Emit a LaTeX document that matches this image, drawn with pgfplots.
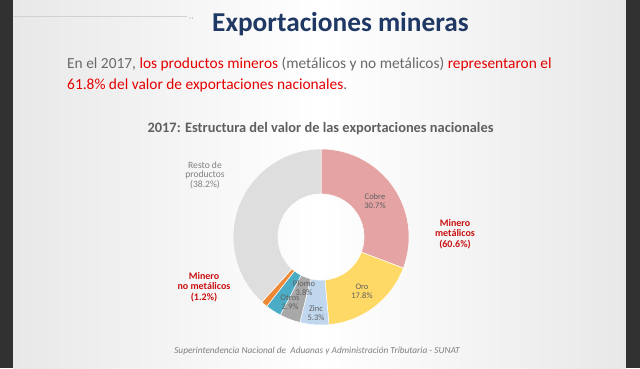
\documentclass[border=0pt]{standalone}
\usepackage{pgfplots}
\pgfplotsset{compat=1.18}
\usepackage{pgfplotstable}
\usepackage{fontspec}
\setmainfont{Carlito}
\definecolor{cCobre}{RGB}{229,163,163}
\definecolor{cOro}{RGB}{255,217,102}
\definecolor{cZinc}{RGB}{192,215,238}
\definecolor{cPlomo}{RGB}{168,168,168}
\definecolor{cOtros}{RGB}{75,172,198}
\definecolor{cNoMet}{RGB}{237,137,54}
\definecolor{cResto}{RGB}{222,222,222}
\definecolor{tBlue}{RGB}{31,56,100}
\definecolor{tGray}{RGB}{105,105,105}
\definecolor{tRed}{RGB}{228,0,0}
\definecolor{lRed}{RGB}{200,16,16}
\definecolor{lGray}{RGB}{128,128,128}
\definecolor{sGray}{RGB}{95,95,95}
\definecolor{dark}{RGB}{49,49,49}

\pgfplotstableread{
name value col
Cobre 30.7 cCobre
Oro 17.8 cOro
Zinc 5.3 cZinc
Plomo 3.8 cPlomo
Otros 2.9 cOtros
NoMet 1.2 cNoMet
Resto 38.2 cResto
}\donut

\newcommand{\fs}[1]{\fontsize{#1bp}{1.2\dimexpr#1bp\relax}\selectfont}

\begin{document}
\begin{tikzpicture}[x=1bp,y=1bp]
\useasboundingbox (0,0) rectangle (640,368);
% background
\shade[left color=black!9, right color=black!9, middle color=white] (13,0) rectangle (626,368);
\fill[dark] (0,0) rectangle (13,368);
\fill[dark] (626,0) rectangle (640,368);
\draw[black!18, line width=1bp] (13,351) -- (187,351);
\fill[black!35] (190,350) circle (0.6);
\fill[black!35] (192.5,350) circle (0.6);

% title
\node[anchor=base west, text=tBlue, font=\fs{27.3}\bfseries, inner sep=0] at (212,337) {Exportaciones mineras};
% body text
\node[anchor=base west, font=\fs{15.4}, inner sep=0] at (67,300) {\textcolor{tGray}{En el 2017, }\textcolor{tRed}{los productos mineros }\textcolor{tGray}{(metálicos y no metálicos) }\textcolor{tRed}{representaron el}};
\node[anchor=base west, font=\fs{15.4}, inner sep=0] at (67,279) {\textcolor{tRed}{61.8\% del valor de exportaciones nacionales}\textcolor{tGray}{.}};
% chart title
\node[anchor=base, text=sGray, font=\fs{14.4}\bfseries, inner sep=0] at (320.5,236) {2017: Estructura del valor de las exportaciones nacionales};

\begin{axis}[at={(321bp,131bp)}, anchor=origin, width=176bp, height=176bp, scale only axis,
  xmin=-1, xmax=1, ymin=-1, ymax=1, hide axis, clip=false, xtick=\empty, ytick=\empty]
\pgfplotstablegetrowsof{\donut}
\pgfmathtruncatemacro\N{\pgfplotsretval-1}
\def\tot{0}
\pgfplotsforeachungrouped \i in {0,...,\N}{%
  \pgfplotstablegetelem{\i}{value}\of{\donut}%
  \pgfmathsetmacro\tot{\tot+\pgfplotsretval}%
}
\def\cum{0}
\pgfplotsforeachungrouped \i in {0,...,\N}{%
  \pgfplotstablegetelem{\i}{value}\of{\donut}\let\sv\pgfplotsretval
  \pgfplotstablegetelem{\i}{col}\of{\donut}\let\sc\pgfplotsretval
  \pgfmathsetmacro\sa{90-(\cum/\tot)*360}%
  \pgfmathsetmacro\cum{\cum+\sv}%
  \pgfmathsetmacro\sb{90-(\cum/\tot)*360}%
  \edef\temp{\noexpand\fill[\sc, draw=white, line width=0.5bp] (axis cs:{cos(\sa)},{sin(\sa)}) arc[start angle=\sa, end angle=\sb, radius=1] -- (axis cs:{0.49*cos(\sb)},{0.49*sin(\sb)}) arc[start angle=\sb, end angle=\sa, radius=0.49] -- cycle;}%
  \temp
}
\end{axis}

% labels
\node[align=center, text=lGray, font=\fs{9.6}, inner sep=0] at (205,193) {Resto de\\[-2bp]productos\\[-2bp](38.2\%)};
\node[align=center, text=sGray, font=\fs{8.5}, inner sep=0] at (375,167) {Cobre\\[-1.5bp]30.7\%};
\node[align=center, text=lRed, font=\fs{10}\bfseries, inner sep=0] at (455,134) {Minero\\[-1.5bp]metálicos\\[-1.5bp](60.6\%)};
\node[align=center, text=sGray, font=\fs{8.5}, inner sep=0] at (362,77) {Oro\\[-1.5bp]17.8\%};
\node[align=center, text=sGray, font=\fs{8.5}, inner sep=0] at (316,55) {Zinc\\[-1.5bp]5.3\%};
\node[align=center, text=sGray, font=\fs{8.5}, inner sep=0] at (304,80) {Plomo\\[-1.5bp]3.8\%};
\node[align=center, text=sGray, font=\fs{8.5}, inner sep=0] at (290,66) {Otros\\[-1.5bp]2.9\%};
\node[align=center, text=lRed, font=\fs{10}\bfseries, inner sep=0] at (204,81) {Minero\\[-1.5bp]no metálicos\\[-1.5bp](1.2\%)};
% footer
\node[anchor=base, text=lGray, font=\fs{9.3}\itshape, inner sep=0] at (317,15) {Superintendencia Nacional de\ \ Aduanas y Administración Tributaria - SUNAT};
\end{tikzpicture}
\end{document}
